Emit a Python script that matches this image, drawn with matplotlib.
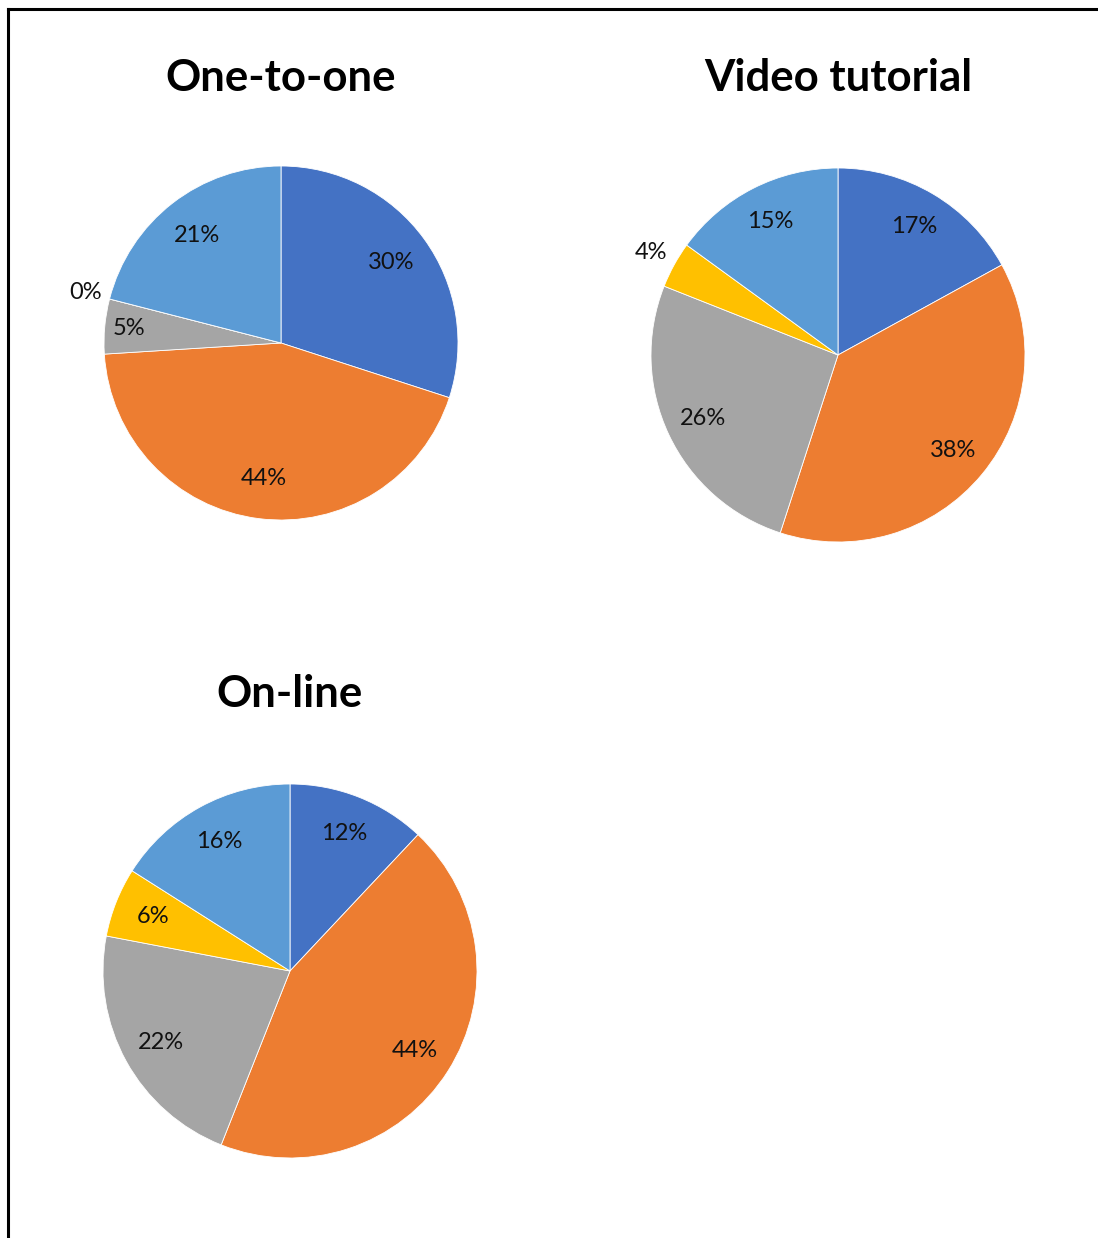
import numpy as np
import matplotlib
matplotlib.use("Agg")
import matplotlib.pyplot as plt
from matplotlib.lines import Line2D

# -----------------------------
# Data (share of responses, %)
# -----------------------------
categories = ["Cat 1", "Cat 2", "Cat 3", "Cat 4", "Cat 5"]
one_to_one = [30, 44, 5, 0, 21]
video_tutorial = [17, 38, 26, 4, 15]
on_line = [12, 44, 22, 6, 16]

titles = ["One-to-one", "Video tutorial", "On-line"]
colors = ["#4472C4", "#ED7D31", "#A5A5A5", "#FFC000", "#5B9BD5"]

plt.rcParams["font.family"] = ["Lato", "DejaVu Sans"]

W, H = 1098, 1238
fig = plt.figure(figsize=(W / 100, H / 100), dpi=100)


def px_axes(cx, cy, r):
    """square axes centred on pixel (cx, cy) with pie radius r px"""
    half = 1.25 * r
    return fig.add_axes([(cx - half) / W, (H - cy - half) / H,
                         2 * half / W, 2 * half / H])


def draw_pie(ax, vals, pctd):
    wedges, _, autotexts = ax.pie(
        vals, colors=colors, startangle=90, counterclock=False,
        autopct=lambda p: f"{p:.0f}%", pctdistance=pctd,
        wedgeprops=dict(edgecolor="white", linewidth=0.6),
        textprops=dict(fontsize=17, color="#111111"))
    # tiny slices get their label pushed outside the pie
    for w, t, v in zip(wedges, autotexts, vals):
        ang = np.deg2rad((w.theta1 + w.theta2) / 2)
        if v < 5:
            t.set_position((1.14 * np.cos(ang), 1.14 * np.sin(ang)))
        elif v == 5:
            t.set_position((0.86 * np.cos(ang), 0.86 * np.sin(ang)))
    ax.set_xlim(-1.25, 1.25)
    ax.set_ylim(-1.25, 1.25)
    ax.set_aspect("equal")


layout = [
    (one_to_one, 281, 343, 177, 78, 0.77),
    (video_tutorial, 838, 355, 187, 78, 0.80),
    (on_line, 290, 971, 187, 694, 0.79),
]

for (vals, cx, cy, r, ty, pctd), title in zip(layout, titles):
    ax = px_axes(cx, cy, r)
    draw_pie(ax, vals, pctd)
    fig.text(cx / W, 1 - ty / H, title, ha="center", va="center",
             fontsize=31.5, fontweight="bold", color="black")

# frame lines (top and left edges)
fig.add_artist(Line2D([7.5 / W, 1], [1 - 9 / H, 1 - 9 / H],
                      transform=fig.transFigure, color="black", linewidth=2.2))
fig.add_artist(Line2D([7.5 / W, 7.5 / W], [0, 1 - 9 / H],
                      transform=fig.transFigure, color="black", linewidth=2.2))

fig.savefig("out.png", dpi=100, facecolor="white")
